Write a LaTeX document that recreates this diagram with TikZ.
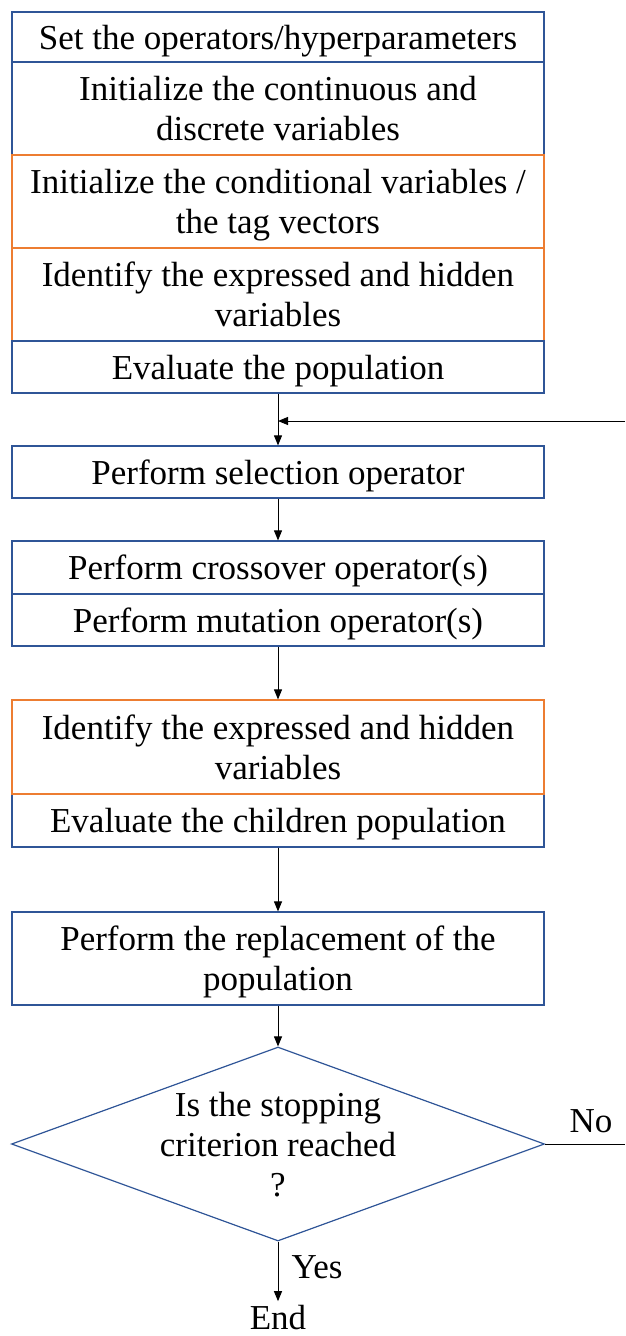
\documentclass[tikz,border=0pt]{standalone}
\usepackage{fontspec}
\setmainfont{Liberation Serif}
\usetikzlibrary{arrows.meta,shapes.geometric}
\definecolor{bblue}{RGB}{47,85,151}
\definecolor{borange}{RGB}{237,125,49}
\newcommand{\hiA}{\rule{0pt}{32pt}}
\newcommand{\loZ}{\rule[-7.8pt]{0pt}{7.8pt}}
\begin{document}
\begin{tikzpicture}[x=1pt,y=-1pt,
  font=\fontsize{35}{40}\selectfont,
  box/.style={draw=bblue, line width=1.2pt, minimum width=532pt, inner sep=0pt, align=center},
  obox/.style={box, draw=borange},
  arr/.style={-{Triangle[length=10pt,width=8pt]}, line width=1pt},
  plain/.style={line width=1pt}]
\useasboundingbox (0,0) rectangle (625,1336);
% group 1
\node[box, minimum height=50pt] (b1) at (278,37) {\hiA Set the operators/hyperparameters\loZ};
\node[box, minimum height=93pt] (b2) at (278,108.5) {\hiA Initialize the continuous and\\discrete variables\loZ};
\node[obox, minimum height=93pt] (b3) at (278,201.5) {\hiA Initialize the conditional variables /\\the tag vectors\loZ};
\node[obox, minimum height=93pt] (b4) at (278,294.5) {\hiA Identify the expressed and hidden\\variables\loZ};
\node[box, minimum height=52pt] (b5) at (278,367) {\hiA Evaluate the population\loZ};
% selection
\node[box, minimum height=52pt] (sel) at (278,472) {\hiA Perform selection operator\loZ};
% crossover / mutation
\node[box, minimum height=53pt] (cro) at (278,567.5) {\hiA Perform crossover operator(s)\loZ};
\node[box, minimum height=52pt] (mut) at (278,620) {\hiA Perform mutation operator(s)\loZ};
% children
\node[box, minimum height=53pt] (ev2) at (278,820.5) {\hiA Evaluate the children population\loZ};
\node[obox, minimum height=94pt] (id2) at (278,747) {\hiA Identify the expressed and hidden\\variables\loZ};
% replacement
\node[box, minimum height=93pt] (rep) at (278,958.5) {\hiA Perform the replacement of the\\population\loZ};
% decision
\node[diamond, draw=bblue, line width=1.2pt, minimum width=533pt, minimum height=194pt, inner sep=0pt] (dia) at (278,1144) {};
\node[align=center, inner sep=0pt] (q) at (278,1145) {Is the stopping\\criterion reached\\?};
\node (no) at (591,1121) {No};
\node[anchor=west] (yes) at (288,1267) {Yes};
\node[anchor=base] (end) at (278,1329) {End};
% coordinates
\coordinate (j) at (278,421);
\coordinate (rin) at (625,421);
\coordinate (rno) at (625,1144);
% connectors
\draw[arr] (b5.south) -- (sel.north);
\draw[arr] (rin) -- (j);
\draw[arr] (sel.south) -- (cro.north);
\draw[arr] (mut.south) -- (id2.north);
\draw[arr] (ev2.south) -- (rep.north);
\draw[arr] (rep.south) -- (dia.north);
\draw[arr] (dia.south) -- (end.north);
\draw[plain] (dia.east) -- (rno);
\end{tikzpicture}
\end{document}
